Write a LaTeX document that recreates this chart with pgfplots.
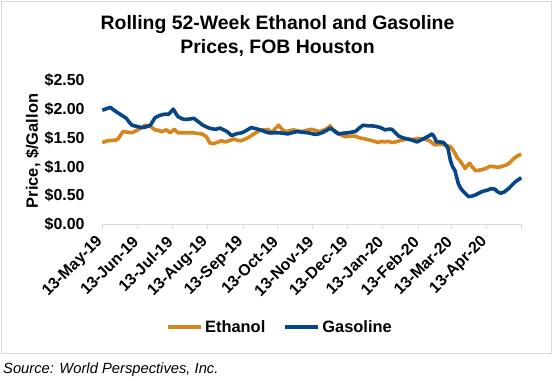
\documentclass[border=0pt]{standalone}
\usepackage{pgfplots}
\pgfplotsset{compat=1.18}
\usepackage{fontspec}
\setmainfont{Liberation Sans}
\definecolor{ethcol}{RGB}{214,134,28}
\definecolor{gascol}{RGB}{6,70,134}
\definecolor{framecol}{RGB}{217,217,217}
\begin{document}
\begin{tikzpicture}
\useasboundingbox (0,0) rectangle (555bp,-381bp);
\draw[framecol, line width=0.75bp] (1.7bp,-1.7bp) rectangle (551bp,-353.5bp);
\node[anchor=base, font=\fontsize{19.5}{24}\selectfont\bfseries] at (277.5bp,-29bp) {Rolling 52-Week Ethanol and Gasoline};
\node[anchor=base, font=\fontsize{19.5}{24}\selectfont\bfseries] at (277.5bp,-53bp) {Prices, FOB Houston};
\node[anchor=base west, inner sep=0pt, font=\fontsize{14.8}{17}\selectfont\itshape] at (3bp,-373.5bp) {Source: World Perspectives, Inc.};
\begin{axis}[
  scale only axis, width=418.9bp, height=144bp,
  at={(102.3bp,-224.3bp)}, anchor=south west,
  xmin=0, xmax=366, ymin=0, ymax=2.5,
  clip=false,
  axis lines=left,
  axis line style={-},
  x axis line style={draw=framecol, line width=0.9bp},
  y axis line style={draw=none},
  xtick={0,31,61,92,123,153,184,214,245,276,305,336,366},
  xticklabels={13-May-19,13-Jun-19,13-Jul-19,13-Aug-19,13-Sep-19,13-Oct-19,13-Nov-19,13-Dec-19,13-Jan-20,13-Feb-20,13-Mar-20,13-Apr-20,{}},
  xtick align=outside,
  x tick style={draw=framecol, line width=0.9bp},
  major tick length=5bp,
  xticklabel style={xshift=-2bp, yshift=-10bp, rotate=45, anchor=east, inner sep=0pt, font=\fontsize{16}{19}\selectfont\bfseries},
  ytick={0,0.5,1,1.5,2,2.5},
  y tick style={draw=none},
  yticklabel={\$\pgfmathprintnumber[fixed,fixed zerofill,precision=2]{\tick}},
  yticklabel style={anchor=east, inner sep=0pt, xshift=-15bp, font=\fontsize{16}{19}\selectfont\bfseries},
  /pgf/number format/assume math mode=true,
  ylabel={Price, \$/Gallon},
  ylabel style={at={(axis description cs:-0.1654,0.509)}, anchor=center, rotate=0, font=\fontsize{16.5}{19}\selectfont\bfseries},
  legend columns=2,
  legend style={at={(0.424,-0.715)}, anchor=center, draw=none, fill=none, font=\fontsize{16.5}{19}\selectfont\bfseries, /tikz/every even column/.append style={column sep=16bp}},
  legend image code/.code={\draw[#1, line width=4bp] (0bp,0bp) -- (33bp,0bp);},
]
\addplot[ethcol, line width=3.6bp, line join=round] coordinates {
(0,1.42)(3,1.44)(5,1.45)(9,1.46)(12,1.46)(14,1.49)(16,1.55)(18,1.61)(22,1.60)(26,1.59)
(29,1.62)(32,1.65)(35,1.68)(37,1.72)(42,1.70)(46,1.64)(49,1.63)(52,1.61)(56,1.64)(59,1.59)
(63,1.65)(66,1.59)(70,1.59)(74,1.59)(78,1.59)(82,1.58)(87,1.57)(91,1.52)(94,1.41)(97,1.40)
(100,1.42)(104,1.45)(107,1.43)(109,1.44)(112,1.46)(115,1.48)(118,1.46)(121,1.45)(125,1.48)(128,1.51)
(131,1.55)(135,1.60)(139,1.64)(143,1.64)(145,1.65)(148,1.58)(151,1.66)(154,1.72)(157,1.65)(160,1.61)
(163,1.62)(167,1.64)(171,1.62)(174,1.61)(178,1.63)(183,1.65)(186,1.63)(190,1.61)(194,1.64)(197,1.67)
(199,1.71)(201,1.66)(203,1.61)(207,1.57)(212,1.52)(216,1.53)(221,1.53)(225,1.50)(230,1.48)(234,1.46)
(238,1.44)(241,1.42)(244,1.44)(247,1.43)(250,1.44)(253,1.42)(256,1.43)(260,1.45)(264,1.47)(267,1.48)
(271,1.47)(275,1.49)(279,1.48)(283,1.47)(286,1.45)(289,1.40)(291,1.38)(294,1.39)(297,1.39)(300,1.37)
(304,1.35)(306,1.30)(308,1.24)(310,1.16)(313,1.09)(315,1.03)(317,0.97)(319,1.02)(321,1.06)(323,1.00)
(326,0.93)(329,0.94)(332,0.95)(335,0.97)(339,1.01)(342,1.00)(346,0.99)(350,1.01)(353,1.03)(356,1.07)
(359,1.13)(362,1.18)(366,1.22)
};
\addlegendentry{Ethanol}
\addplot[gascol, line width=3.6bp, line join=round] coordinates {
(0,1.98)(4,2.01)(7,2.03)(11,1.97)(14,1.93)(18,1.88)(21,1.84)(24,1.76)(26,1.72)(30,1.70)
(34,1.68)(38,1.69)(42,1.72)(46,1.85)(50,1.89)(54,1.91)(58,1.91)(62,2.00)(66,1.87)(70,1.83)
(73,1.82)(77,1.83)(80,1.84)(84,1.78)(88,1.72)(91,1.69)(95,1.66)(99,1.65)(103,1.67)(106,1.64)
(109,1.61)(113,1.54)(117,1.57)(122,1.59)(126,1.63)(130,1.68)(134,1.66)(138,1.64)(142,1.61)(145,1.59)
(150,1.59)(154,1.59)(158,1.58)(162,1.57)(166,1.59)(170,1.61)(174,1.60)(179,1.59)(182,1.58)(186,1.56)
(189,1.57)(192,1.59)(196,1.63)(199,1.67)(203,1.62)(206,1.57)(210,1.58)(215,1.59)(218,1.60)(221,1.61)
(225,1.68)(228,1.72)(232,1.71)(235,1.71)(239,1.70)(243,1.68)(247,1.64)(250,1.65)(253,1.65)(256,1.59)
(259,1.53)(263,1.50)(267,1.48)(271,1.46)(275,1.43)(278,1.46)(281,1.49)(285,1.53)(288,1.57)(290,1.52)
(292,1.43)(295,1.43)(298,1.42)(300,1.38)(302,1.32)(304,1.12)(306,1.00)(308,0.94)(311,0.71)(313,0.63)
(315,0.58)(318,0.52)(320,0.48)(323,0.49)(326,0.51)(329,0.54)(332,0.57)(336,0.59)(340,0.62)(343,0.61)
(345,0.57)(348,0.54)(351,0.56)(355,0.62)(358,0.68)(361,0.74)(364,0.78)(366,0.81)
};
\addlegendentry{Gasoline}
\end{axis}
\end{tikzpicture}
\end{document}
